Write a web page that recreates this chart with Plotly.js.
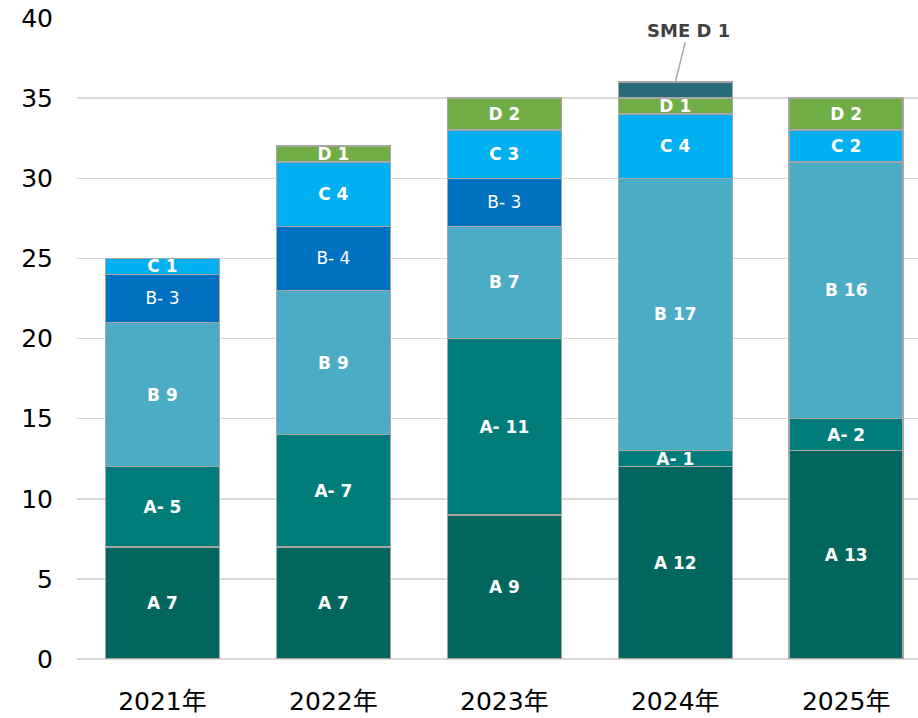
<!DOCTYPE html>
<html>
<head>
<meta charset="utf-8">
<script src="https://cdn.plot.ly/plotly-3.0.1.min.js"></script>
<style>html,body{margin:0;padding:0;background:#fff}#chart{width:918px;height:718px}</style>
</head>
<body>
<div id="chart"></div>
<script>
const categories = ["2021年", "2022年", "2023年", "2024年", "2025年"];
const seriesNames = ["A", "A-", "B", "B-", "C", "D", "SME D"];
const valA     = [7, 7, 9, 12, 13];
const valAm    = [5, 7, 11, 1, 2];
const valB     = [9, 9, 7, 17, 16];
const valBm    = [3, 4, 3, null, null];
const valC     = [1, 4, 3, 4, 2];
const valD     = [null, 1, 2, 1, 2];
const valSMED  = [null, null, null, 1, null];
const colors = ["#00665E", "#007D7A", "#4BACC6", "#0070C0", "#00B0F0", "#70AD47", "#2A6B7A"];
const allVals = [valA, valAm, valB, valBm, valC, valD, valSMED];

const traces = allVals.map((vals, i) => {
  const name = seriesNames[i];
  const showText = name !== "SME D";
  return {
    type: "bar",
    name: name,
    x: categories,
    y: vals,
    width: 0.667,
    marker: {color: colors[i], line: {color: "#A6A6A6", width: 1.5}},
    text: vals.map(v => (v === null || !showText) ? "" : name + " " + v),
    textposition: "inside",
    insidetextanchor: "middle",
    textangle: 0,
    textfont: {family: "DejaVu Sans, Verdana, sans-serif", size: 17, color: "#FFFFFF",
               weight: name === "B-" ? "normal" : "bold"},
    hoverinfo: "skip"
  };
});

const layout = {
  width: 918, height: 718,
  barmode: "stack",
  showlegend: false,
  paper_bgcolor: "#FFFFFF",
  plot_bgcolor: "#FFFFFF",
  margin: {l: 77, r: 0, t: 18, b: 59},
  uniformtext: {mode: "show", minsize: 17},
  xaxis: {
    type: "category",
    range: [-0.5, 4.42],
    showgrid: false,
    zeroline: false,
    showline: false,
    ticks: "",
    ticklabelstandoff: 25,
    tickfont: {family: "DejaVu Sans, Noto Sans CJK JP, sans-serif", size: 25, color: "#000000"}
  },
  yaxis: {
    range: [0, 40],
    tickvals: [0, 5, 10, 15, 20, 25, 30, 35, 40],
    showgrid: true,
    gridcolor: "#D9D9D9",
    gridwidth: 1.5,
    zeroline: true,
    zerolinecolor: "#D9D9D9",
    zerolinewidth: 1.5,
    showline: false,
    ticks: "",
    ticklabelstandoff: 23,
    tickfont: {family: "DejaVu Sans, Verdana, sans-serif", size: 25, color: "#000000"}
  },
  annotations: [{
    x: 3, y: 36, xref: "x", yref: "y",
    text: "<b>SME D 1</b>",
    showarrow: true, arrowhead: 0, arrowwidth: 1.5, arrowcolor: "#A6A6A6",
    ax: 13, ay: -52,
    font: {family: "DejaVu Sans, Verdana, sans-serif", size: 18, color: "#404040"}
  }]
};

Plotly.newPlot("chart", traces, layout, {displayModeBar: false, staticPlot: true});
</script>
</body>
</html>
